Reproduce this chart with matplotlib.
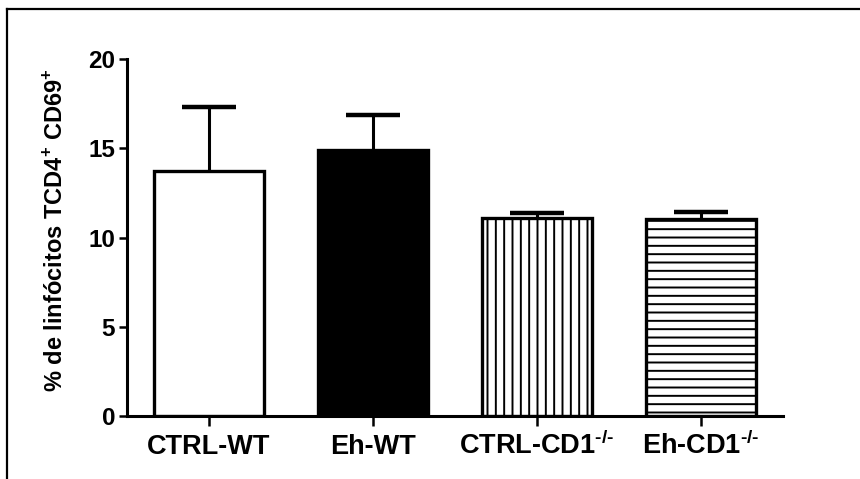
import numpy as np
import matplotlib
matplotlib.use("Agg")
import matplotlib.pyplot as plt
from matplotlib.lines import Line2D

plt.rcParams['font.family'] = ['Liberation Sans', 'DejaVu Sans']
plt.rcParams['font.weight'] = 'bold'
plt.rcParams['mathtext.fontset'] = 'custom'
plt.rcParams['mathtext.rm'] = 'Liberation Sans:bold'
plt.rcParams['mathtext.bf'] = 'Liberation Sans:bold'
plt.rcParams['hatch.linewidth'] = 1.4

# data
groups = ['CTRL-WT', 'Eh-WT', r'CTRL-CD1$^{\text{-/-}}$', r'Eh-CD1$^{\text{-/-}}$']
means = [13.72, 14.89, 11.07, 11.05]
errors = [3.57, 1.98, 0.28, 0.37]
fills = ['white', 'black', 'white', 'white']
hatches = ['', '', '||', '--']
yticks = [0, 5, 10, 15, 20]

fig = plt.figure(figsize=(8.6, 4.79), dpi=100)
ax = fig.add_axes([0.1477, 0.1315, 0.7628, 0.7453])

x = np.arange(len(groups))
for i in range(len(groups)):
    ax.bar(x[i], means[i], width=0.67, color=fills[i], edgecolor='black',
           linewidth=2.4, hatch=hatches[i], zorder=2)

eb = ax.errorbar(x, means, yerr=[np.zeros(len(errors)), errors], fmt='none',
                 ecolor='black', elinewidth=2.2, capsize=19.5, capthick=3.2, zorder=3)
# hide the caps sitting on the bar tops (only upper errors are shown)
for cap in eb[1]:
    if np.allclose(cap.get_ydata(), means):
        cap.set_visible(False)

ax.set_xlim(-0.5, 3.5)
ax.set_ylim(0, 20)
ax.set_yticks(yticks)
ax.set_xticks(x)
ax.set_xticklabels(groups, fontsize=19.5, fontweight='bold')
for lab in ax.get_xticklabels():
    lab.set_verticalalignment('baseline')
ax.tick_params(axis='x', length=7, width=1.8, pad=20.5)
ax.tick_params(axis='y', length=6, width=1.8, pad=2.5, labelsize=17.5)

for s in ['top', 'right']:
    ax.spines[s].set_visible(False)
for s in ['left', 'bottom']:
    ax.spines[s].set_linewidth(2.2)

fig.text(56 / 860, 1 - 230 / 479, r'% de linfócitos TCD4$^{\mathbf{+}}$ CD69$^{\mathbf{+}}$',
         rotation=90, ha='center', va='center', fontsize=17, fontweight='bold')

# outer frame (top and left only visible)
fig.add_artist(Line2D([0.0087, 1.0], [0.981, 0.981], transform=fig.transFigure, color='black', linewidth=1.6))
fig.add_artist(Line2D([0.0087, 0.0087], [0.0, 0.981], transform=fig.transFigure, color='black', linewidth=1.6))

fig.savefig('out.png', dpi=100)
